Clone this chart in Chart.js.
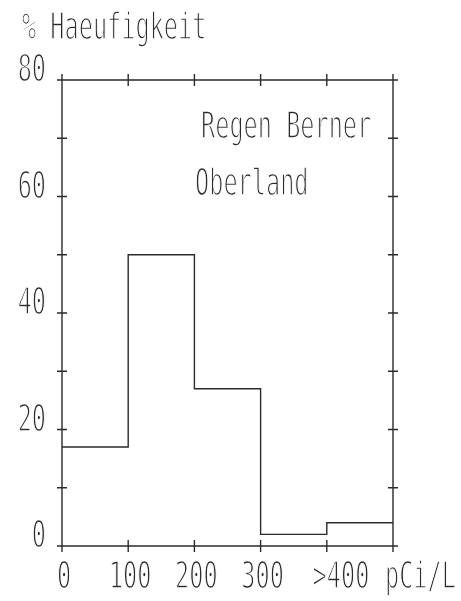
<!DOCTYPE html>
<html>
<head>
<meta charset="utf-8">
<script src="https://cdn.jsdelivr.net/npm/chart.js@4.4.1/dist/chart.umd.min.js"></script>
<style>
  html, body { margin: 0; padding: 0; background: #fff; }
  canvas { display: block; }
</style>
</head>
<body>
<canvas id="histo" width="461" height="601"></canvas>
<script>
// ---- data ----
const binStarts = [0, 100, 200, 300, 400];
const binEnd = 500;
const haeufigkeit = [17, 50, 27, 2, 4];          // % per bin
const xTickValues = [0, 100, 200, 300, 400];
const xTickLabels = ["0", "100", "200", "300", ">400"];
const yTickValues = [0, 20, 40, 60, 80];
const yTickLabels = ["0", "20", "40", "60", "80"];
const titleText = "% Haeufigkeit";
const unitText = "pCi/L";
const noteLines = ["Regen Berner", "Oberland"];

const INK = "#2a2a2a";
const FONT = '38px "DejaVu Sans Mono", "Liberation Mono", monospace';
const SX = 0.62;   // squeeze text horizontally, plotter lettering is narrow

// step points: each bin starts at its value, last point closes the final bin
const stepPoints = binStarts.map((x, i) => ({ x, y: haeufigkeit[i] }));
stepPoints.push({ x: binEnd, y: haeufigkeit[haeufigkeit.length - 1] });

function plotText(ctx, text, x, y, align) {
    ctx.save();
    ctx.font = FONT;
    ctx.textAlign = "left";
    ctx.textBaseline = "alphabetic";
    const w = ctx.measureText(text).width * SX;
    let left = x;
    if (align === "center") left = x - w / 2;
    else if (align === "right") left = x - w;
    ctx.translate(left, y);
    ctx.scale(SX, 1);
    ctx.fillStyle = INK;
    ctx.fillText(text, 0, 0);
    // thin the glyphs a bit, pen strokes are fine
    ctx.strokeStyle = "#fff";
    ctx.lineWidth = 1.5;
    ctx.strokeText(text, 0, 0);
    ctx.restore();
}

// frame, crossing ticks and all lettering
const plotterFrame = {
    id: "plotterFrame",
    afterDraw(chart) {
        const { ctx, chartArea: a, scales: { x, y } } = chart;

        // lettering first, so the white thinning never touches lines
        yTickValues.forEach((v, i) => {
            plotText(ctx, yTickLabels[i], a.left - 16, y.getPixelForValue(v) + 1, "right");
        });
        xTickValues.forEach((v, i) => {
            const lbl = xTickLabels[i];
            const px = x.getPixelForValue(v);
            if (lbl.startsWith(">")) {
                ctx.save(); ctx.font = FONT;
                const cw = ctx.measureText(">").width * SX;
                ctx.restore();
                plotText(ctx, lbl, px - cw, a.bottom + 42, "left");
            } else {
                plotText(ctx, lbl, px + 2, a.bottom + 42, "center");
            }
        });
        plotText(ctx, unitText, a.right - 8, a.bottom + 42, "left");
        plotText(ctx, titleText, 22, 39, "left");
        plotText(ctx, noteLines[0], x.getPixelForValue(210), y.getPixelForValue(70), "left");
        plotText(ctx, noteLines[1], x.getPixelForValue(201), y.getPixelForValue(60.3), "left");

        ctx.save();
        ctx.strokeStyle = INK;
        ctx.lineWidth = 1.4;
        ctx.beginPath();
        ctx.rect(a.left, a.top, a.right - a.left, a.bottom - a.top);
        // y ticks every 10 on both sides
        for (let v = y.min; v <= y.max; v += 10) {
            const py = y.getPixelForValue(v);
            ctx.moveTo(a.left - 5, py); ctx.lineTo(a.left + 5, py);
            ctx.moveTo(a.right - 5, py); ctx.lineTo(a.right + 5, py);
        }
        // x ticks every 100 top and bottom
        for (let v = x.min; v <= x.max; v += 100) {
            const px = x.getPixelForValue(v);
            ctx.moveTo(px, a.top - 6); ctx.lineTo(px, a.top + 6);
            ctx.moveTo(px, a.bottom - 6); ctx.lineTo(px, a.bottom + 6);
        }
        ctx.stroke();
        ctx.restore();
    }
};

new Chart(document.getElementById("histo").getContext("2d"), {
    type: "line",
    data: {
        datasets: [{
            data: stepPoints,
            stepped: "before",
            borderColor: INK,
            borderWidth: 1.4,
            pointRadius: 0,
            fill: false,
            clip: false
        }]
    },
    options: {
        responsive: false,
        animation: false,
        layout: { padding: { left: 62, right: 68, top: 80, bottom: 55 } },
        scales: {
            x: { type: "linear", min: 0, max: binEnd, display: false },
            y: { min: 0, max: 80, display: false }
        },
        plugins: {
            legend: { display: false },
            tooltip: { enabled: false }
        }
    },
    plugins: [plotterFrame]
});
</script>
</body>
</html>
